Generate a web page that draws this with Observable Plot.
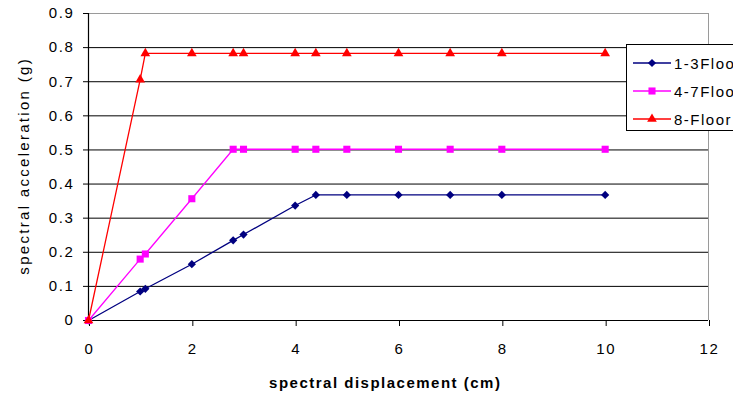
<!DOCTYPE html>
<html>
<head>
<meta charset="utf-8">
<script src="https://cdn.jsdelivr.net/npm/d3@7"></script>
<script src="https://cdn.jsdelivr.net/npm/@observablehq/plot@0.6"></script>
<style>
  html, body { margin: 0; padding: 0; background: #fff; overflow: hidden; }
  #wrap { position: relative; width: 733px; height: 403px; overflow: hidden; font-family: "Liberation Sans", Arial, sans-serif; }
  #wrap svg g[aria-label="x-axis tick label"],
  #wrap svg g[aria-label="y-axis tick label"] { letter-spacing: 1.6px; }
  #legend { position: absolute; left: 626px; top: 44px; width: 130px; height: 87px; border: 1px solid #000; background: #fff; box-sizing: border-box; }
  #legend .row { position: absolute; left: 5px; height: 20px; display: flex; align-items: center; font-size: 15px; letter-spacing: 1.5px; color: #000; white-space: nowrap; }
  #legend svg { margin-right: 2px; }
</style>
</head>
<body>
<div id="wrap"></div>
<script>
// Spectral displacement (cm) sampled for each capacity curve
const displacement = [0, 1, 1.1, 2, 2.8, 3, 4, 4.4, 5, 6, 7, 8, 10];
// Spectral acceleration (g) per floor group
const floors13 = [0, 0.085, 0.093, 0.165, 0.235, 0.252, 0.337, 0.368, 0.368, 0.368, 0.368, 0.368, 0.368];
const floors47 = [0, 0.18, 0.195, 0.357, 0.502, 0.502, 0.502, 0.502, 0.502, 0.502, 0.502, 0.502, 0.502];
const floor8   = [0, 0.706, 0.783, 0.783, 0.783, 0.783, 0.783, 0.783, 0.783, 0.783, 0.783, 0.783, 0.783];

const seriesNames = ["1-3Floor", "4-7Floor", "8-Floor"];
const seriesColors = ["#000080", "#ff00ff", "#ff0000"];
const seriesSymbols = ["diamond2", "square", "triangle"];
const seriesRadius = [3.7, 4.0, 3.6];

const xTicks = [0, 2, 4, 6, 8, 10, 12];
const yTicks = [0, 0.1, 0.2, 0.3, 0.4, 0.5, 0.6, 0.7, 0.8, 0.9];
const gridLines = [0.1, 0.2, 0.3, 0.4, 0.5, 0.6, 0.7, 0.8];

const xTitle = "spectral displacement (cm)";
const yTitle = "spectral acceleration (g)";

const values = [floors13, floors47, floor8];
const rows = values.flatMap((ys, i) =>
  ys.map((y, j) => ({ series: seriesNames[i], x: displacement[j], y }))
);

const marks = [
  Plot.ruleY(gridLines, { stroke: "#000", strokeWidth: 1 }),
  Plot.ruleY([0.9], { stroke: "#9a9a9a", strokeWidth: 1 }),
  Plot.ruleX([12], { stroke: "#9a9a9a", strokeWidth: 1 }),
  Plot.axisX({ ticks: xTicks, tickSize: 6, tickPadding: 17, dx: 1, fontSize: 15, tickFormat: d => String(d), label: null, stroke: "#000", fill: "#000" }),
  Plot.axisY({ ticks: yTicks, tickSize: 5, tickPadding: 9, fontSize: 15, tickFormat: d => d === 0 ? "0" : d.toFixed(1), label: null, stroke: "#000", fill: "#000" }),
  Plot.ruleX([0], { stroke: "#000", strokeWidth: 1.2 }),
  Plot.ruleY([0], { stroke: "#000", strokeWidth: 1.2 }),
  Plot.text([xTitle], { frameAnchor: "bottom", dx: -14, dy: 67, textAnchor: "start", fontWeight: "bold", fontSize: 15, fill: "#000" }),
  Plot.text([yTitle], { frameAnchor: "left", dx: -64, rotate: -90, textAnchor: "start", fontSize: 15, fill: "#000" })
];

seriesNames.forEach((name, i) => {
  const data = rows.filter(d => d.series === name);
  marks.push(Plot.line(data, { x: "x", y: "y", stroke: seriesColors[i], strokeWidth: 1.3 }));
  marks.push(Plot.dot(data, { x: "x", y: "y", symbol: () => seriesSymbols[i], r: seriesRadius[i], fill: seriesColors[i], stroke: "none" }));
});

const chart = Plot.plot({
  width: 733,
  height: 403,
  marginLeft: 88,
  marginRight: 25,
  marginTop: 13,
  marginBottom: 83,
  style: { fontFamily: "'Liberation Sans', Arial, sans-serif", fontSize: "15px", color: "#000", background: "#fff" },
  x: { domain: [0, 12] },
  y: { domain: [0, 0.9] },
  symbol: { type: "identity" },
  marks
});

const wrap = document.getElementById("wrap");
wrap.appendChild(chart);

// Wider tracking on the axis titles, re-centred on their anchor after measuring
d3.select(chart).selectAll("text").each(function () {
  const t = this.textContent;
  let spacing = null;
  if (t === xTitle) spacing = 1.5;
  else if (t === yTitle) spacing = 2.3;
  if (spacing === null) return;
  this.style.letterSpacing = spacing + "px";
  const len = this.getComputedTextLength();
  this.setAttribute("x", -(len - spacing) / 2);
});

// Legend: line + marker swatch with the series name, one row per floor group
const legend = document.createElement("div");
legend.id = "legend";
const symbolTypes = { diamond2: d3.symbolDiamond2, square: d3.symbolSquare, triangle: d3.symbolTriangle };
seriesNames.forEach((name, i) => {
  const row = document.createElement("div");
  row.className = "row";
  row.style.top = (8 + i * 28) + "px";
  const svg = d3.create("svg").attr("width", 40).attr("height", 20);
  svg.append("line").attr("x1", 1).attr("x2", 39).attr("y1", 10).attr("y2", 10)
    .attr("stroke", seriesColors[i]).attr("stroke-width", 1.3);
  svg.append("path")
    .attr("transform", "translate(20,10)")
    .attr("d", d3.symbol(symbolTypes[seriesSymbols[i]], Math.PI * seriesRadius[i] ** 2)())
    .attr("fill", seriesColors[i]);
  row.appendChild(svg.node());
  const label = document.createElement("span");
  label.textContent = name;
  row.appendChild(label);
  legend.appendChild(row);
});
wrap.appendChild(legend);
</script>
</body>
</html>
